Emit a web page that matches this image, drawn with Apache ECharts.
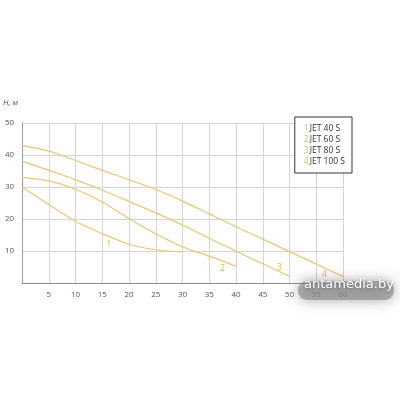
<!DOCTYPE html>
<html>
<head>
<meta charset="utf-8">
<script src="https://cdn.jsdelivr.net/npm/echarts@6/dist/echarts.min.js"></script>
<style>
  html, body { margin: 0; padding: 0; background: #fff; }
  #main { width: 400px; height: 400px; }
</style>
</head>
<body>
<div id="main"></div>
<script>
// названия насосов
var names = ['JET 40 S', 'JET 60 S', 'JET 80 S', 'JET 100 S'];
// Q, м3/ч -> H, м
var jet40 = [[0, 30], [5, 24.5], [10, 19.3], [15, 15.4], [20, 12.1], [25, 10.4], [30, 9.7]];
var jet60 = [[0, 33], [5, 31.9], [10, 29.3], [15, 25.3], [20, 20.1], [25, 15.4], [30, 11.3], [35, 8.4], [40, 5.2]];
var jet80 = [[0, 38.1], [5, 35.2], [10, 32.3], [15, 29], [20, 25.5], [25, 21.9], [30, 18.1], [35, 14], [40, 9.9], [45, 6], [50, 2.1]];
var jet100 = [[0, 43], [5, 41.2], [10, 38.3], [15, 35.2], [20, 32.3], [25, 29.2], [30, 25.6], [35, 21.6], [40, 17.6], [45, 13.7], [50, 9.8], [55, 5.9], [60, 2]];
// номера у кривых
var curveTags = ['1', '2', '3', '4'];
var tagPos = [[16.2, 12.1], [37.5, 4.6], [48.1, 4.9], [56.5, 2.7]];

var gold = '#e8c67a';
var allData = [jet40, jet60, jet80, jet100];

var myChart = echarts.init(document.getElementById('main'));

var series = allData.map(function (d, i) {
  return {
    name: names[i],
    type: 'line',
    data: d,
    smooth: 0.3,
    showSymbol: false,
    lineStyle: { color: gold, width: 1.2 },
    itemStyle: { color: gold },
    markPoint: {
      symbol: 'circle',
      symbolSize: 0,
      data: [{ coord: tagPos[i], value: curveTags[i] }],
      label: { show: true, position: 'inside', color: '#dfb45a', fontSize: 9, fontFamily: 'Open Sans' }
    }
  };
});

myChart.setOption({
  animation: false,
  grid: { left: 21, right: 57, top: 123, bottom: 117 },
  legend: {
    data: names,
    orient: 'vertical',
    right: 48,
    top: 117,
    itemWidth: 0,
    itemHeight: 0,
    itemGap: 2,
    icon: 'rect',
    padding: [7, 7, 7, 4],
    borderColor: '#333',
    borderWidth: 1,
    backgroundColor: '#fff',
    formatter: function (n) {
      return '{n|' + (names.indexOf(n) + 1) + '}{t|' + n + '}';
    },
    textStyle: {
      rich: {
        n: { color: '#e3b965', fontSize: 8.5, fontFamily: 'Open Sans', padding: [0, 1, 0, 0] },
        t: { color: '#333', fontSize: 8.5, fontFamily: 'Open Sans' }
      }
    }
  },
  xAxis: {
    type: 'value',
    min: 0,
    max: 60,
    interval: 5,
    axisLine: { show: true, lineStyle: { color: '#8a8a8a', width: 1 } },
    axisTick: { show: false },
    axisLabel: {
      color: '#555', fontSize: 8, fontFamily: 'Open Sans', margin: 8,
      formatter: function (v) { return v === 0 ? '' : v; }
    },
    splitLine: { show: true, lineStyle: { color: '#d4d4d4', width: 1 } }
  },
  yAxis: {
    type: 'value',
    min: 0,
    max: 50,
    interval: 10,
    name: 'H, м',
    nameLocation: 'end',
    nameGap: 16,
    nameTextStyle: { color: '#555', fontSize: 8, fontStyle: 'italic', fontFamily: 'Open Sans', align: 'right', padding: [0, 4, 0, 0] },
    axisLine: { show: true, lineStyle: { color: '#9a9a9a', width: 1 } },
    axisTick: { show: false },
    axisLabel: {
      color: '#555', fontSize: 8, fontFamily: 'Open Sans', margin: 8,
      formatter: function (v) { return v === 0 ? '' : v; }
    },
    splitLine: { show: true, lineStyle: { color: '#d4d4d4', width: 1 } }
  },
  graphic: [{
    type: 'rect',
    left: 298,
    top: 281,
    shape: { width: 96, height: 19, r: 9 },
    style: { fill: 'rgba(145,145,145,0.72)', shadowBlur: 14, shadowColor: 'rgba(120,120,120,0.9)' },
    z: 100
  }, {
    type: 'text',
    left: 304,
    top: 278,
    style: {
      text: 'antamedia.by',
      fill: '#fff',
      font: '13px "DejaVu Sans"',
      textShadowColor: 'rgba(90,90,90,0.7)',
      textShadowBlur: 3,
      textShadowOffsetY: 1
    },
    z: 101
  }],
  series: series
});
</script>
</body>
</html>
